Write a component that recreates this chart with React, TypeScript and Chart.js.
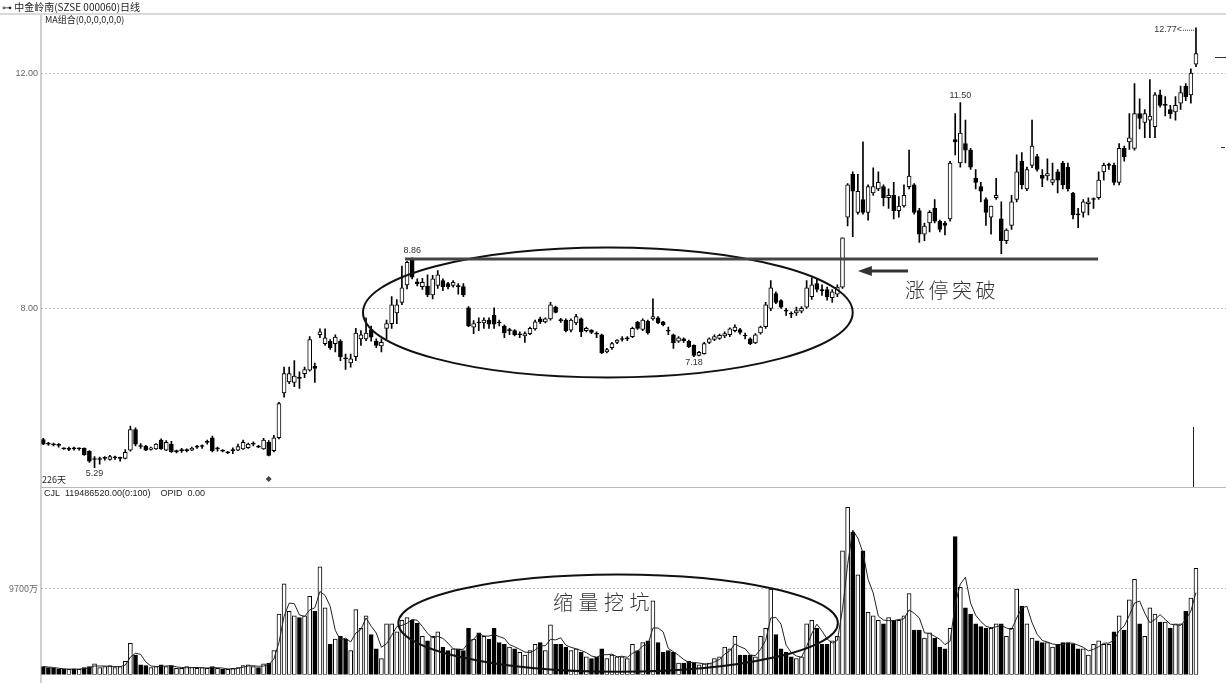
import { useEffect, useRef } from "react";
import { Chart, registerables } from "chart.js";
Chart.register(...registerables);

// ---- data (daily candles, 226 days) ----
const openP = [5.77,5.70,5.69,5.68,5.62,5.60,5.62,5.61,5.62,5.57,5.43,5.43,5.45,5.43,5.46,5.45,5.45,5.59,5.94,5.66,5.66,5.60,5.61,5.76,5.59,5.69,5.56,5.58,5.58,5.59,5.64,5.65,5.72,5.80,5.61,5.59,5.54,5.58,5.59,5.61,5.63,5.69,5.66,5.61,5.72,5.58,5.80,6.56,6.75,6.74,6.82,6.89,6.95,7.02,7.55,7.40,7.44,7.40,7.44,7.15,7.07,7.18,7.48,7.48,7.64,7.44,7.36,7.66,7.74,7.92,8.10,8.40,8.82,8.45,8.37,8.38,8.23,8.39,8.47,8.42,8.39,8.38,8.37,8.01,7.68,7.76,7.75,7.80,7.88,7.76,7.70,7.62,7.62,7.55,7.53,7.57,7.65,7.82,7.77,7.82,8.02,7.80,7.80,7.63,7.75,7.82,7.62,7.63,7.57,7.55,7.26,7.33,7.42,7.47,7.48,7.52,7.76,7.64,7.78,7.82,7.84,7.77,7.62,7.55,7.44,7.48,7.44,7.37,7.20,7.23,7.42,7.47,7.49,7.53,7.55,7.62,7.64,7.54,7.48,7.41,7.58,7.69,8.00,8.25,8.13,7.96,7.91,7.92,7.95,8.02,8.20,8.42,8.31,8.32,8.18,8.24,8.36,9.55,10.28,9.63,9.85,9.63,9.96,10.03,10.07,9.88,9.92,9.66,9.74,10.07,10.10,9.66,9.26,9.45,9.70,9.48,9.45,9.52,10.87,10.47,10.80,10.69,10.21,10.07,9.85,9.55,9.88,9.52,9.15,9.41,9.85,10.50,10.03,10.43,10.58,10.26,10.25,10.14,10.32,10.47,10.40,9.96,9.60,9.63,9.78,9.85,9.88,10.32,10.43,10.43,10.14,10.72,10.83,10.72,11.31,11.16,11.20,11.09,11.63,11.45,11.38,11.34,11.49,11.78,11.63,12.15];
const highP = [5.79,5.72,5.71,5.70,5.63,5.64,5.64,5.63,5.63,5.58,5.48,5.47,5.48,5.50,5.49,5.47,5.60,6.00,5.97,5.70,5.67,5.64,5.70,5.78,5.75,5.74,5.59,5.62,5.61,5.64,5.67,5.68,5.76,5.83,5.64,5.60,5.57,5.63,5.69,5.76,5.71,5.73,5.67,5.79,5.75,5.84,6.40,7.00,7.00,7.11,6.92,7.00,7.52,7.07,7.65,7.65,7.47,7.55,7.47,7.22,7.22,7.66,7.62,7.84,7.70,7.48,7.48,7.80,8.20,8.15,8.72,8.80,8.86,8.50,8.51,8.57,8.56,8.64,8.50,8.44,8.47,8.42,8.42,8.03,7.79,7.84,7.84,7.84,8.01,7.80,7.72,7.66,7.64,7.60,7.60,7.68,7.80,7.85,7.84,8.10,8.04,7.83,7.82,7.82,7.90,7.84,7.68,7.64,7.60,7.56,7.32,7.42,7.47,7.52,7.52,7.68,7.78,7.82,7.80,8.16,7.86,7.78,7.68,7.56,7.52,7.50,7.46,7.38,7.27,7.42,7.50,7.55,7.56,7.60,7.67,7.72,7.66,7.58,7.50,7.57,7.70,8.10,8.47,8.28,8.15,8.00,7.94,8.02,8.03,8.47,8.52,8.50,8.40,8.36,8.32,8.40,9.20,10.12,10.32,10.28,10.83,10.10,10.39,10.32,10.10,10.03,10.14,9.90,10.10,10.69,10.12,9.70,9.45,9.66,9.85,9.50,9.48,10.50,11.31,11.50,11.20,10.72,10.36,10.14,9.88,9.74,10.21,9.81,9.35,9.92,10.61,10.65,10.40,11.20,10.62,10.36,10.54,10.47,10.36,10.50,10.47,9.97,9.70,9.85,9.88,9.88,10.32,10.47,10.47,10.47,10.80,10.76,11.31,11.82,11.56,11.38,11.89,11.67,11.71,11.60,11.45,11.60,11.78,11.82,12.07,12.77];
const lowP = [5.68,5.67,5.66,5.64,5.60,5.58,5.59,5.59,5.50,5.38,5.29,5.35,5.42,5.42,5.43,5.40,5.44,5.57,5.66,5.62,5.58,5.59,5.60,5.60,5.58,5.55,5.54,5.55,5.56,5.58,5.62,5.62,5.69,5.56,5.57,5.56,5.53,5.53,5.58,5.60,5.62,5.66,5.63,5.60,5.49,5.56,5.78,6.49,6.72,6.67,6.64,6.82,6.93,6.74,7.50,7.37,7.30,7.26,7.11,6.96,7.00,7.11,7.37,7.45,7.44,7.33,7.26,7.48,7.66,7.74,8.06,8.33,8.50,8.38,8.32,8.20,8.16,8.34,8.30,8.33,8.36,8.24,8.20,7.69,7.57,7.62,7.66,7.66,7.66,7.70,7.50,7.55,7.53,7.50,7.42,7.55,7.63,7.74,7.75,7.80,7.92,7.76,7.60,7.60,7.72,7.52,7.60,7.57,7.50,7.23,7.24,7.30,7.40,7.44,7.45,7.50,7.64,7.62,7.56,7.80,7.74,7.70,7.55,7.32,7.42,7.42,7.33,7.18,7.19,7.22,7.40,7.45,7.47,7.50,7.52,7.60,7.56,7.48,7.38,7.40,7.56,7.66,7.96,8.08,8.00,7.88,7.84,7.88,7.92,8.00,8.15,8.28,8.22,8.14,8.10,8.20,8.34,9.40,9.22,9.60,9.60,9.50,9.92,10.00,9.74,9.70,9.52,9.55,9.72,10.03,9.60,9.12,9.15,9.30,9.45,9.30,9.25,9.48,10.61,10.40,10.47,10.36,10.03,9.81,9.41,9.26,9.85,8.93,9.10,9.34,9.81,10.03,10.00,10.39,10.33,10.07,10.18,10.10,9.96,10.03,9.99,9.52,9.37,9.55,9.59,9.70,9.85,10.18,10.36,10.10,10.10,10.50,10.70,10.69,11.05,10.90,10.90,10.90,11.42,11.27,11.23,11.20,11.38,11.53,11.49,12.11];
const closeP = [5.69,5.69,5.68,5.67,5.61,5.62,5.61,5.61,5.51,5.40,5.44,5.43,5.45,5.48,5.46,5.45,5.55,5.94,5.69,5.65,5.59,5.63,5.69,5.61,5.72,5.56,5.58,5.58,5.58,5.62,5.64,5.65,5.72,5.58,5.61,5.57,5.56,5.58,5.65,5.72,5.69,5.69,5.64,5.76,5.50,5.80,6.38,6.89,6.89,6.85,6.81,6.96,7.47,6.98,7.60,7.50,7.33,7.51,7.18,7.14,7.14,7.58,7.55,7.58,7.51,7.37,7.42,7.74,8.06,8.06,8.35,8.78,8.53,8.42,8.44,8.23,8.50,8.57,8.37,8.37,8.44,8.37,8.23,7.70,7.74,7.75,7.80,7.73,7.73,7.75,7.58,7.62,7.55,7.55,7.57,7.66,7.77,7.77,7.82,8.06,7.93,7.79,7.62,7.80,7.86,7.60,7.66,7.59,7.56,7.24,7.30,7.40,7.46,7.47,7.48,7.66,7.66,7.80,7.58,7.86,7.75,7.72,7.61,7.41,7.50,7.45,7.35,7.20,7.25,7.40,7.48,7.52,7.54,7.57,7.65,7.68,7.59,7.53,7.40,7.55,7.68,8.06,8.35,8.10,8.02,7.95,7.90,7.96,8.00,8.35,8.40,8.32,8.30,8.20,8.28,8.36,9.20,10.10,9.99,9.99,9.63,10.07,10.07,10.14,9.88,9.92,9.66,9.74,9.92,10.25,9.63,9.26,9.40,9.63,9.48,9.34,9.41,10.47,10.83,10.98,10.69,10.40,10.14,9.99,9.63,9.74,9.92,9.15,9.33,9.81,10.32,10.10,10.36,10.76,10.36,10.21,10.29,10.19,10.18,10.10,10.03,9.59,9.59,9.81,9.81,9.85,10.18,10.43,10.43,10.14,10.72,10.58,10.90,11.31,11.23,11.31,11.27,11.63,11.45,11.45,11.31,11.45,11.67,11.60,12.00,12.33];
// volume in 万 (10k shares)
const volume = [900,800,700,650,600,600,650,600,800,900,1200,800,900,1000,800,900,1500,3500,2200,1100,1000,800,900,1100,900,1000,700,700,900,800,700,800,700,900,700,600,600,700,800,1000,1100,900,800,1200,1300,2700,6800,10200,7100,6600,6400,6600,8800,7100,12100,7500,3400,4000,4300,4000,2700,7300,5200,6600,4500,2900,1800,5700,5700,4800,6100,6400,6100,5800,4300,3800,4300,4800,3100,2700,2900,2900,2700,5200,4000,4700,4300,4000,5200,3600,3400,3100,2900,2500,2200,2700,3400,3600,2700,5600,3400,3400,3100,2700,2900,2500,2000,1800,2000,2900,1800,2200,2000,2000,1800,3400,2700,3600,3800,8300,3600,2500,2700,2500,1300,1300,1500,1300,1100,1200,1300,1800,2000,3100,2900,4300,2200,2200,2200,2000,4300,5200,9600,4500,2900,2500,2000,1800,2000,5700,6100,5200,3400,3400,3800,4300,13900,18800,16000,11200,13900,7000,6600,6100,5700,6400,6100,6100,6600,9100,5000,5000,4100,4700,4100,3100,2900,5200,15500,9800,7500,6800,5700,5400,5200,5200,5700,5700,4300,5200,9600,7700,5700,4100,3800,3600,3600,3100,3400,3600,3600,3400,2900,2900,2200,3400,3800,3400,3400,4800,6600,5000,8400,10700,5700,4300,7500,6800,5900,5900,5200,5700,5700,7100,8600,11950];
const priceTicks = [8, 12];
const volumeTicks = [9700];
const lastVolumeText = "119486520.00";

const N = closeP.length;
const X_MIN = -0.449;
const X_MAX = 230.86;
const FONT_NUM = "'Liberation Sans', Arial, sans-serif";
const FONT_CJK = "'Noto Sans CJK SC', 'Liberation Sans', sans-serif";

const isUp = closeP.map((c, i) => c >= openP[i]);
const tiny = closeP.map((c, i) => Math.abs(c - openP[i]) < 0.025);

// MA of volume (3 days) drawn over the bars
const volMA = volume.map((_, i) => {
  const s = Math.max(0, i - 2);
  const arr = volume.slice(s, i + 1);
  return arr.reduce((a, b) => a + b, 0) / arr.length;
});

const priceDecor = {
  id: "priceDecor",
  afterDraw(chart: any) {
    const { ctx, scales } = chart;
    const x = scales.x, y = scales.y;
    const px = (i: number) => x.getPixelForValue(i);
    const py = (v: number) => y.getPixelForValue(v);
    ctx.save();
    ctx.fillStyle = "#d9d9d9";
    ctx.fillRect(0, 13, 1226, 2);
    ctx.fillStyle = "#a0a0a0";
    ctx.fillRect(40.5, 15, 1, 473);
    ctx.fillStyle = "#b8b8b8";
    ctx.fillRect(41, 487, 1185, 1);
    ctx.fillStyle = "#222";
    ctx.textBaseline = "middle";
    ctx.textAlign = "left";
    ctx.font = `10px ${FONT_CJK}`;
    ctx.fillText("⊶ 中金岭南(SZSE 000060)日线", 2, 7);
    ctx.font = `9px ${FONT_CJK}`;
    ctx.fillText("MA组合(0,0,0,0,0,0)", 45, 20);
    ctx.fillText("226天", 42, 480);
    ctx.font = `9px ${FONT_NUM}`;
    ctx.fillStyle = "#333";
    ctx.textAlign = "center";
    ctx.fillText("5.29", px(10), py(5.29) + 6);
    ctx.fillText("8.86", px(72), py(8.86) - 7);
    ctx.fillText("7.18", px(127), py(7.18) + 6);
    ctx.fillText("11.50", px(179), py(11.5) - 7);
    const hx = px(225), hy = py(12.77);
    ctx.textAlign = "right";
    ctx.fillText("12.77<", hx - 14, hy + 2);
    ctx.strokeStyle = "#333";
    ctx.lineWidth = 1;
    ctx.setLineDash([1, 1]);
    ctx.beginPath();
    ctx.moveTo(hx - 13, hy + 2.5);
    ctx.lineTo(hx, hy + 2.5);
    ctx.stroke();
    ctx.setLineDash([]);
    const dx = px(44), dy = 479;
    ctx.fillStyle = "#444";
    ctx.beginPath();
    ctx.moveTo(dx, dy - 3); ctx.lineTo(dx + 3, dy); ctx.lineTo(dx, dy + 3); ctx.lineTo(dx - 3, dy);
    ctx.closePath(); ctx.fill();
    ctx.fillStyle = "#222";
    ctx.fillRect(Math.round(px(224.4)), 427, 1, 60);
    ctx.fillStyle = "#333";
    ctx.fillRect(1215, 57, 11, 1);
    ctx.fillRect(1221, 147, 4, 1);
    const cx = px(110.2), cy = py(7.93);
    const rx = px(110.2 + 47.8) - cx;
    const ry = py(7.93) - py(7.93 + 1.105);
    ctx.strokeStyle = "#111";
    ctx.lineWidth = 2;
    ctx.beginPath();
    ctx.ellipse(cx, cy, rx, ry, 0, 0, Math.PI * 2);
    ctx.stroke();
    ctx.strokeStyle = "#444";
    ctx.lineWidth = 3;
    ctx.beginPath();
    ctx.moveTo(px(70.6), py(8.84));
    ctx.lineTo(px(205.9), py(8.84));
    ctx.stroke();
    const ax1 = px(168.8), ax0 = px(159.0), ay = py(8.636);
    ctx.strokeStyle = "#333";
    ctx.fillStyle = "#333";
    ctx.lineWidth = 3;
    ctx.beginPath();
    ctx.moveTo(ax1, ay);
    ctx.lineTo(ax0 + 12, ay);
    ctx.stroke();
    ctx.beginPath();
    ctx.moveTo(ax0, ay);
    ctx.lineTo(ax0 + 14, ay - 5);
    ctx.lineTo(ax0 + 14, ay + 5);
    ctx.closePath();
    ctx.fill();
    ctx.fillStyle = "#333";
    ctx.font = `300 20px ${FONT_CJK}`;
    ctx.textAlign = "left";
    ctx.textBaseline = "middle";
    const t = "涨停突破";
    const tx = px(168.2), ty = py(8.30);
    for (let k = 0; k < t.length; k++) ctx.fillText(t[k], tx + k * 23.5, ty);
    ctx.restore();
  },
};

const volumeDecor = {
  id: "volumeDecor",
  afterDraw(chart: any) {
    const { ctx, scales } = chart;
    const x = scales.x, y = scales.y;
    const px = (i: number) => x.getPixelForValue(i);
    const py = (v: number) => y.getPixelForValue(v);
    ctx.save();
    ctx.fillStyle = "#a0a0a0";
    ctx.fillRect(40.5, 0, 1, 195);
    ctx.fillStyle = "#222";
    ctx.font = `9px ${FONT_NUM}`;
    ctx.textAlign = "left";
    ctx.textBaseline = "middle";
    ctx.fillText(`CJL  ${lastVolumeText}(0:100)    OPID  0.00`, 44, 6);
    const cx = px(112.2), cy = py(5779);
    const rx = px(112.2 + 42.9) - cx;
    const ry = py(5779) - py(5779 + 5469);
    ctx.strokeStyle = "#111";
    ctx.lineWidth = 2;
    ctx.beginPath();
    ctx.ellipse(cx, cy, rx, ry, 0, 0, Math.PI * 2);
    ctx.stroke();
    ctx.fillStyle = "#333";
    ctx.font = `300 20px ${FONT_CJK}`;
    const t = "缩量挖坑";
    const tx = px(99.5), ty = py(8152);
    for (let k = 0; k < t.length; k++) ctx.fillText(t[k], tx + k * 25.5, ty);
    ctx.restore();
  },
};

export default function App() {
  const priceRef = useRef<HTMLCanvasElement>(null);
  const volRef = useRef<HTMLCanvasElement>(null);

  useEffect(() => {
    const idx = Array.from({ length: N }, (_, i) => i);
    const bodyBg = idx.map((i) => (isUp[i] && !tiny[i] ? "#ffffff" : "#000000"));
    const xScale = { type: "linear" as const, min: X_MIN, max: X_MAX, display: false, offset: false, grid: { offset: false } };

    const price = new Chart(priceRef.current!, {
      type: "bar",
      data: {
        datasets: [
          {
            label: "body",
            data: idx.map((i) => ({ x: i, y: [openP[i], closeP[i]] })) as any,
            backgroundColor: bodyBg,
            borderColor: "#000000",
            borderWidth: 1,
            borderSkipped: false,
            barThickness: 4,
            minBarLength: 1,
            grouped: false,
            order: 1,
          },
          {
            label: "wick",
            data: idx.map((i) => ({ x: i, y: [lowP[i], highP[i]] })) as any,
            backgroundColor: "#000000",
            borderWidth: 0,
            barThickness: 1,
            grouped: false,
            order: 2,
          },
        ],
      },
      options: {
        animation: false,
        responsive: false,
        maintainAspectRatio: false,
        events: [],
        layout: { padding: { top: 15, right: 6, bottom: 1, left: 0 } },
        plugins: { legend: { display: false }, tooltip: { enabled: false } },
        scales: {
          x: xScale,
          y: {
            min: 5.088,
            max: 12.987,
            afterFit: (s: any) => { s.width = 41; },
            afterBuildTicks: (s: any) => { s.ticks = priceTicks.map((v) => ({ value: v })); },
            ticks: {
              callback: (v: any) => Number(v).toFixed(2),
              font: { size: 9, family: FONT_NUM },
              color: "#666",
              padding: 3,
            },
            grid: { color: "#c4c4c4", drawTicks: false, lineWidth: 1 },
            border: { display: false, dash: [2, 2] },
          },
        },
      },
      plugins: [priceDecor],
    });

    const vol = new Chart(volRef.current!, {
      type: "bar",
      data: {
        datasets: [
          {
            type: "line",
            label: "ma",
            data: idx.map((i) => ({ x: i, y: volMA[i] })) as any,
            borderColor: "#222",
            borderWidth: 1,
            pointRadius: 0,
            tension: 0,
            order: 0,
          } as any,
          {
            label: "vol",
            data: idx.map((i) => ({ x: i, y: volume[i] })) as any,
            backgroundColor: idx.map((i) => (isUp[i] ? "#ffffff" : "#000000")),
            borderColor: "#000000",
            borderWidth: 1,
            borderSkipped: false,
            barThickness: 4,
            grouped: false,
            order: 1,
          },
        ],
      },
      options: {
        animation: false,
        responsive: false,
        maintainAspectRatio: false,
        events: [],
        layout: { padding: { top: 1, right: 6, bottom: 0, left: 0 } },
        plugins: { legend: { display: false }, tooltip: { enabled: false } },
        scales: {
          x: xScale,
          y: {
            min: 0,
            max: 20019,
            afterFit: (s: any) => { s.width = 41; },
            afterBuildTicks: (s: any) => { s.ticks = volumeTicks.map((v) => ({ value: v })); },
            ticks: {
              callback: (v: any) => `${v}万`,
              font: { size: 9, family: FONT_CJK },
              color: "#666",
              padding: 3,
            },
            grid: { color: "#c4c4c4", drawTicks: false, lineWidth: 1 },
            border: { display: false, dash: [2, 2] },
          },
        },
      },
      plugins: [volumeDecor],
    });

    return () => {
      price.destroy();
      vol.destroy();
    };
  }, []);

  return (
    <div style={{ position: "fixed", left: 0, top: 0, width: 1232, height: 683, background: "#ffffff", overflow: "hidden" }}>
      <canvas ref={priceRef} width={1232} height={488} style={{ position: "absolute", left: 0, top: 0 }} />
      <canvas ref={volRef} width={1232} height={195} style={{ position: "absolute", left: 0, top: 488 }} />
    </div>
  );
}
